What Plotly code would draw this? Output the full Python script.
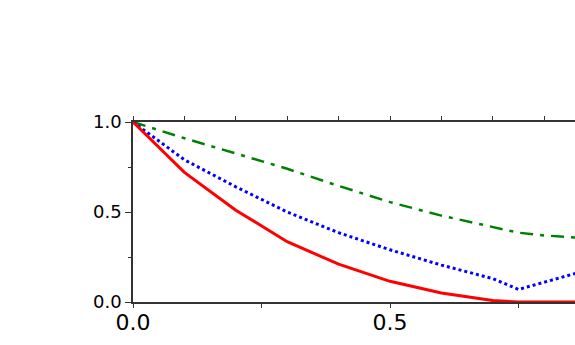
import plotly.graph_objects as go

# values
x = [0.0, 0.1, 0.2, 0.3, 0.4, 0.5, 0.6, 0.7, 0.75, 0.8, 0.9, 1.0]
red = [1.0, 0.72, 0.51, 0.335, 0.21, 0.115, 0.05, 0.008, 0.0, 0.0, 0.0, 0.0]
blue = [1.0, 0.79, 0.64, 0.50, 0.385, 0.29, 0.205, 0.13, 0.07, 0.11, 0.19, 0.27]
green = [1.0, 0.91, 0.825, 0.74, 0.645, 0.555, 0.48, 0.415, 0.385, 0.37, 0.345, 0.33]

fig = go.Figure()
fig.add_trace(go.Scatter(x=x, y=green, mode='lines',
                         line=dict(color='#008000', width=2.5,
                                   dash='13px,7px,4px,7px')))
fig.add_trace(go.Scatter(x=x, y=blue, mode='lines',
                         line=dict(color='#0000ff', width=3, dash='dot')))
fig.add_trace(go.Scatter(x=x, y=red, mode='lines',
                         line=dict(color='#ff0000', width=3)))
# invisible trace just to carry the top axis
fig.add_trace(go.Scatter(x=[0], y=[0], xaxis='x2', mode='markers',
                         marker=dict(opacity=0), hoverinfo='skip'))

# plot runs past the right edge of the picture, like the reference
xr = [0, 442 / 514]

fig.update_layout(
    width=575, height=345,
    margin=dict(l=133, r=0, t=122, b=43),
    plot_bgcolor='white', paper_bgcolor='white',
    showlegend=False,
    xaxis=dict(range=xr, tickvals=[0, 0.5], ticktext=['0.0', '0.5'],
               automargin=False,
               minor=dict(tickvals=[0.25, 0.75], ticks='outside', ticklen=4,
                          tickcolor='#333'),
               showgrid=False, zeroline=False, showline=True, linecolor='#333',
               linewidth=1.5, ticks='outside', ticklen=4, tickcolor='#333',
               ticklabelstandoff=-4,
               tickfont=dict(family='DejaVu Sans', size=22, color='black')),
    xaxis2=dict(range=xr, overlaying='x', side='top', dtick=0.1,
                automargin=False,
                showticklabels=False, showgrid=False, zeroline=False,
                showline=True, linecolor='#333', linewidth=1.5,
                ticks='outside', ticklen=4, tickcolor='#333'),
    yaxis=dict(range=[0, 1], tickvals=[0, 0.5, 1], ticktext=['0.0', '0.5', '1.0'],
               automargin=False,
               minor=dict(tickvals=[0.25, 0.75], ticks='outside', ticklen=3,
                          tickcolor='#333'),
               showgrid=False, zeroline=False, showline=True, linecolor='#333',
               linewidth=1.5, ticks='outside', ticklen=6, tickcolor='#333',
               tickfont=dict(family='DejaVu Sans', size=18, color='black')),
)

# drop the default page margin so the figure sits at the window corner
fig.write_html("out.html", config={'displayModeBar': False},
               post_script="document.body.style.margin='0';"
                           "document.body.style.overflow='hidden';")
